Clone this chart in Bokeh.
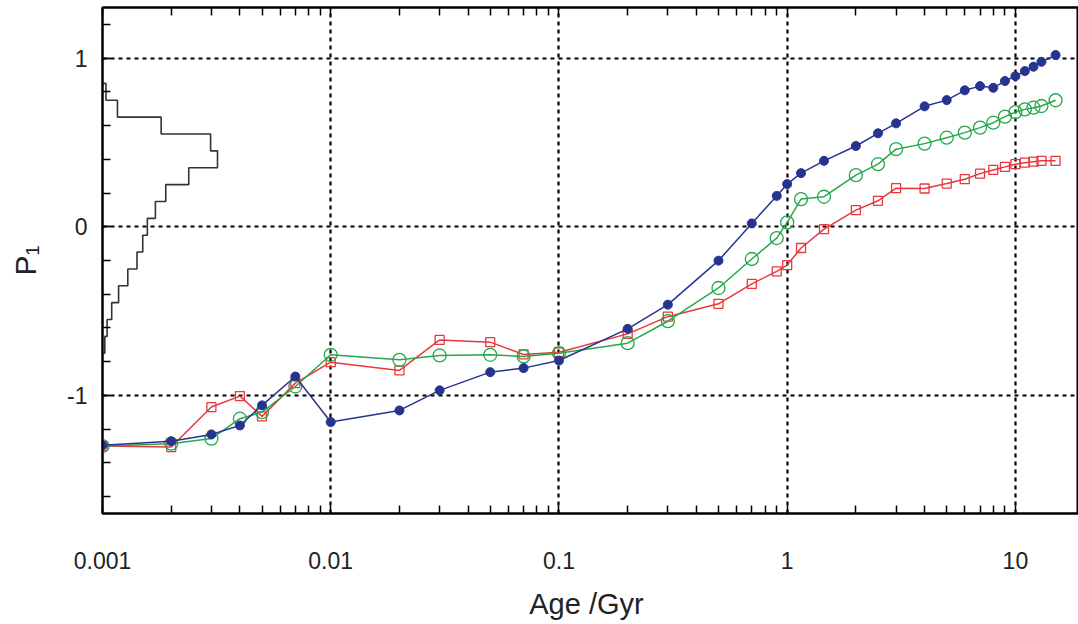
import numpy as np
from bokeh.plotting import figure
from bokeh.models import (Range1d, FixedTicker, LogAxis, CustomJSTickFormatter,
                          LinearScale)
from bokeh.embed import file_html
from bokeh.resources import INLINE

# ---------------- data ----------------
ages = [0.001, 0.002, 0.003, 0.004, 0.005, 0.007, 0.01, 0.02, 0.03, 0.05, 0.07, 0.1,
        0.2, 0.3, 0.5, 0.7, 0.9, 1.0, 1.15, 1.45, 2, 2.5, 3, 4, 5, 6, 7, 8, 9, 10,
        11, 12, 13, 15]

p1_blue = [-1.296, -1.272, -1.231, -1.178, -1.059, -0.888, -1.158, -1.089, -0.970,
           -0.862, -0.838, -0.793, -0.605, -0.462, -0.201, 0.020, 0.183, 0.253, 0.318,
           0.391, 0.479, 0.554, 0.613, 0.714, 0.751, 0.809, 0.834, 0.824, 0.864, 0.893,
           0.923, 0.949, 0.978, 1.018]

p1_green = [-1.300, -1.286, -1.256, -1.138, -1.099, -0.947, -0.759, -0.789, -0.763,
            -0.759, -0.769, -0.750, -0.690, -0.560, -0.363, -0.191, -0.067, 0.026, 0.164,
            0.178, 0.306, 0.371, 0.460, 0.493, 0.528, 0.558, 0.588, 0.617, 0.653, 0.680,
            0.696, 0.706, 0.716, 0.750]

p1_red = [-1.300, -1.306, -1.069, -1.004, -1.124, -0.927, -0.803, -0.852, -0.671,
          -0.684, -0.757, -0.744, -0.635, -0.533, -0.457, -0.339, -0.264, -0.227, -0.126,
          -0.014, 0.099, 0.154, 0.229, 0.227, 0.256, 0.282, 0.315, 0.337, 0.355, 0.371,
          0.380, 0.386, 0.391, 0.391]

# histogram of observed P1 (bin centres, relative frequency)
hist_centers = [0.8, 0.7, 0.6, 0.5, 0.4, 0.3, 0.2, 0.1, 0.0, -0.1, -0.2, -0.3, -0.4,
                -0.5, -0.6, -0.7]
hist_freq = [0.03, 0.13, 0.51, 0.94, 1.00, 0.75, 0.55, 0.46, 0.39, 0.35, 0.30, 0.22,
             0.14, 0.08, 0.04, 0.02]
hist_bin = 0.1

x_ticks = [0.001, 0.01, 0.1, 1, 10]
y_ticks = [-1, 0, 1]

# ---------------- figure ----------------
W, H = 1078, 624
FONT = "Liberation Sans"
TXT = "#222222"

p = figure(width=W, height=H, x_axis_type="log",
           x_range=Range1d(0.001, 18.9), y_range=Range1d(-1.7, 1.3),
           output_backend="svg", toolbar_location=None,
           min_border_left=102, min_border_right=0, min_border_top=7,
           min_border_bottom=111)
p.background_fill_color = "white"
p.border_fill_color = "white"
p.outline_line_color = "black"
p.outline_line_width = 2

x_minor = [m * 10.0 ** e for e in range(-3, 2) for m in range(2, 10)]
x_ticker = FixedTicker(ticks=x_ticks, minor_ticks=x_minor)
y_minor = [float(v) for v in np.round(np.arange(-1.6, 1.3, 0.2), 1)]
y_ticker = FixedTicker(ticks=y_ticks, minor_ticks=y_minor)

fmt = CustomJSTickFormatter(code="return Number(tick.toPrecision(3)).toString();")
yfmt = CustomJSTickFormatter(code="return String(Math.round(tick));")
blank = CustomJSTickFormatter(code="return '';")

xa = p.xaxis[0]
xa.ticker = x_ticker
xa.formatter = fmt
xa.major_tick_in = 8
xa.major_tick_out = 0
xa.minor_tick_in = 8
xa.minor_tick_out = 0
xa.major_tick_line_color = "black"
xa.minor_tick_line_color = "black"
xa.major_tick_line_width = 1.5
xa.minor_tick_line_width = 1.5
xa.axis_line_color = "black"
xa.axis_line_width = 2
xa.major_label_standoff = 38
xa.major_label_text_font = FONT
xa.major_label_text_font_size = "23px"
xa.major_label_text_color = TXT
xa.axis_label = "Age  /Gyr"
xa.axis_label_text_font = FONT
xa.axis_label_text_font_size = "29px"
xa.axis_label_text_font_style = "normal"
xa.axis_label_text_color = TXT
xa.axis_label_standoff = 16

ya = p.yaxis[0]
ya.ticker = y_ticker
ya.formatter = yfmt
ya.major_tick_in = 8
ya.major_tick_out = 0
ya.minor_tick_in = 8
ya.minor_tick_out = 0
ya.major_tick_line_color = "black"
ya.minor_tick_line_color = "black"
ya.major_tick_line_width = 1.5
ya.minor_tick_line_width = 1.5
ya.axis_line_color = "black"
ya.axis_line_width = 2
ya.major_label_standoff = 15
ya.major_label_text_font = FONT
ya.major_label_text_font_size = "23px"
ya.major_label_text_color = TXT
ya.axis_label = "P\u2081"
ya.axis_label_text_font = FONT
ya.axis_label_text_font_size = "30px"
ya.axis_label_text_font_style = "normal"
ya.axis_label_text_color = TXT
ya.axis_label_standoff = 22

top = LogAxis(ticker=x_ticker, formatter=blank,
              major_label_standoff=0, major_tick_in=8, major_tick_out=0,
              minor_tick_in=8, minor_tick_out=0, major_tick_line_width=1.5,
              minor_tick_line_width=1.5, axis_line_width=2)
p.add_layout(top, "above")

p.xgrid.ticker = FixedTicker(ticks=x_ticks)
p.ygrid.ticker = FixedTicker(ticks=y_ticks)
for g in (p.xgrid[0], p.ygrid[0]):
    g.grid_line_color = "black"
    g.grid_line_width = 2.2
    g.grid_line_dash = "4 4"

# histogram drawn against a linear extra range (frame-relative)
p.extra_x_ranges = {"hist": Range1d(0, 976.0 / 115.0)}
p.extra_x_scales = {"hist": LinearScale()}
hx, hy = [0.0], [hist_centers[0] + hist_bin / 2]
for c, f in zip(hist_centers, hist_freq):
    hx += [f, f]
    hy += [c + hist_bin / 2, c - hist_bin / 2]
hx.append(0.0)
hy.append(hist_centers[-1] - hist_bin / 2)
p.line(hx, hy, x_range_name="hist", line_color="#333333", line_width=1.6)

# series
RED, GREEN, BLUE = "#e8383d", "#25a84b", "#27348f"
p.line(ages, p1_red, line_color=RED, line_width=1.5)
p.scatter(ages, p1_red, marker="square", size=9, fill_color=None,
          line_color=RED, line_width=1.3)
p.line(ages, p1_green, line_color=GREEN, line_width=1.5)
p.scatter(ages, p1_green, marker="circle", size=13, fill_color=None,
          line_color=GREEN, line_width=1.3)
p.line(ages, p1_blue, line_color=BLUE, line_width=1.5)
p.scatter(ages, p1_blue, marker="circle", size=9, fill_color=BLUE,
          line_color=BLUE, line_width=1)

open("out.html", "w").write(file_html(p, INLINE))
